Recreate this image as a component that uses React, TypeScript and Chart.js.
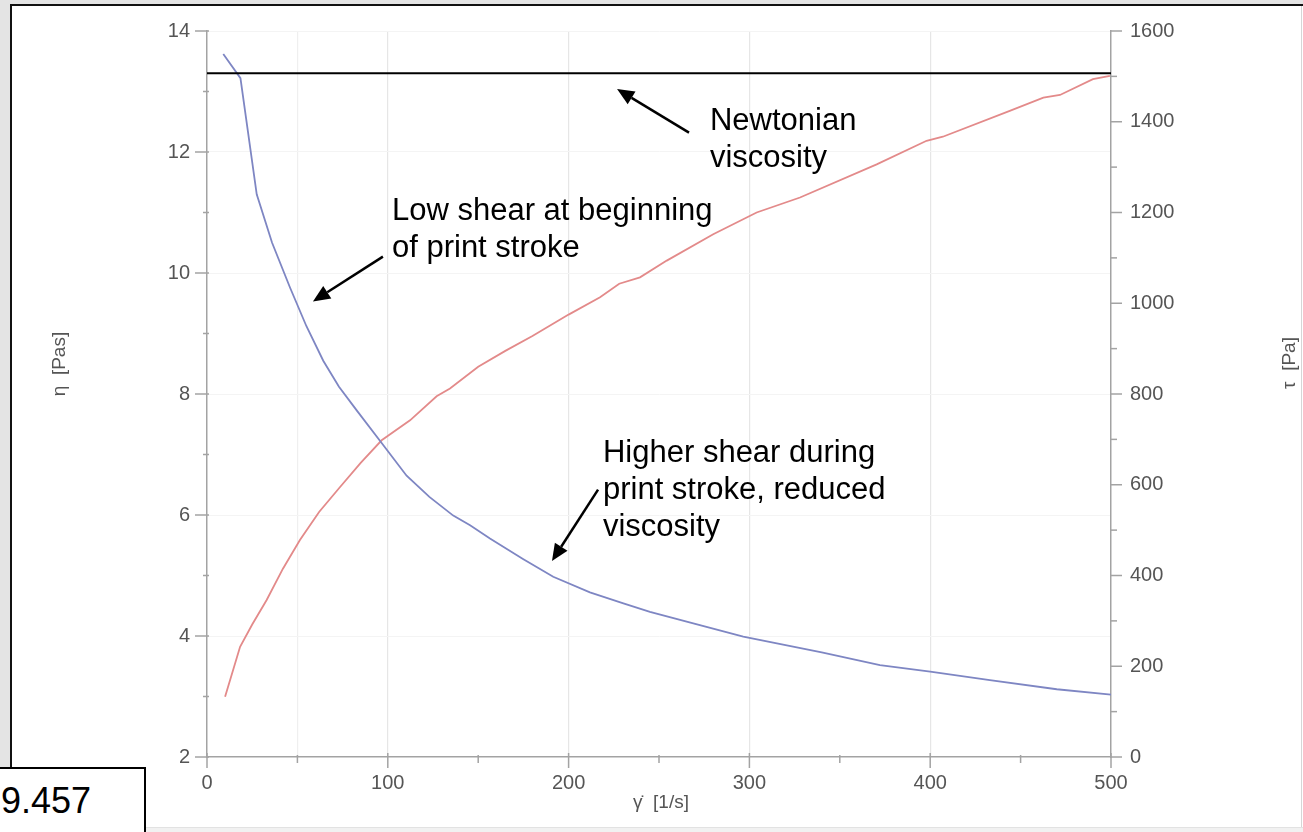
import React, { useEffect, useRef } from 'react';
import { Chart, registerables } from 'chart.js';

Chart.register(...registerables);

// ---------- data ----------
const shearEta = [9, 18.5, 27.5, 36, 45.9, 55, 64.3, 73, 82.8, 96.6, 110.4, 123, 136.2, 145.5, 156.5, 175, 191.5, 211.8, 230.3, 245, 270, 296.6, 340, 372.2, 400, 433, 470, 500];
const etaValues = [13.62, 13.22, 11.3, 10.5, 9.76, 9.12, 8.55, 8.12, 7.73, 7.19, 6.65, 6.3, 5.99, 5.83, 5.61, 5.27, 4.98, 4.72, 4.54, 4.4, 4.2, 3.99, 3.73, 3.52, 3.41, 3.27, 3.12, 3.03];

const shearTau = [10, 18.3, 25, 33, 42, 51.4, 62, 73.6, 85, 96.6, 112.3, 127, 134.4, 150, 165, 180, 200, 217.4, 228, 239.5, 254.3, 280, 304, 328, 370.4, 398, 407, 444, 462.6, 471.8, 490, 499.4];
const tauValues = [133, 243, 292, 346, 415, 478, 540, 595, 648, 698, 742, 795, 812, 860, 895, 928, 975, 1013, 1043, 1057, 1094, 1152, 1200, 1233, 1306, 1358, 1367, 1424, 1453, 1459, 1494, 1501];

const newtonianShear = [0, 500];
const newtonianEta = [13.3, 13.3];

const xMajorTicks = [0, 100, 200, 300, 400, 500];
const etaMajorTicks = [2, 4, 6, 8, 10, 12, 14];
const tauMajorTicks = [0, 200, 400, 600, 800, 1000, 1200, 1400, 1600];

const xTitle = 'γ̇  [1/s]';
const etaTitle = 'η  [Pas]';
const tauTitle = 'τ  [Pa]';

// annotations (data coordinates on shear / eta axes)
const annotationLines = [
  ['Newtonian', 'viscosity'],
  ['Low shear at beginning', 'of print stroke'],
  ['Higher shear during', 'print stroke, reduced', 'viscosity'],
];
const annotationShear = [278.2, 102.3, 219];
const annotationEta = [12.37, 10.88, 6.87];
const arrowTailShear = [266.6, 97.3, 216.3];
const arrowTailEta = [12.32, 10.27, 6.42];
const arrowHeadShear = [226.8, 58.6, 190.8];
const arrowHeadEta = [13.04, 9.53, 5.24];

const FONT = '"Liberation Sans", Arial, Helvetica, sans-serif';
const TICK_COLOR = '#555555';
const AXIS_COLOR = '#a3a3a3';

const decorPlugin = {
  id: 'decor',
  afterDraw(chart: any) {
    const { ctx, chartArea, scales } = chart;
    const xs = scales.x, ys = scales.y, y2 = scales.y2;
    ctx.save();
    ctx.strokeStyle = AXIS_COLOR;
    ctx.lineWidth = 1.5;
    // tick marks
    xs.ticks.forEach((t: any) => {
      const px = xs.getPixelForValue(t.value);
      const major = xMajorTicks.includes(t.value);
      ctx.beginPath();
      ctx.moveTo(px, chartArea.bottom - (major ? 4 : 2));
      ctx.lineTo(px, chartArea.bottom + (major ? 11 : 6));
      ctx.stroke();
    });
    ys.ticks.forEach((t: any) => {
      const py = ys.getPixelForValue(t.value);
      const major = etaMajorTicks.includes(t.value);
      ctx.beginPath();
      ctx.moveTo(chartArea.left - (major ? 12 : 4), py);
      ctx.lineTo(chartArea.left + 2, py);
      ctx.stroke();
    });
    y2.ticks.forEach((t: any) => {
      const py = y2.getPixelForValue(t.value);
      const major = tauMajorTicks.includes(t.value);
      ctx.beginPath();
      ctx.moveTo(chartArea.right - 1, py);
      ctx.lineTo(chartArea.right + (major ? 11 : 6), py);
      ctx.stroke();
    });
    // axis titles
    ctx.fillStyle = TICK_COLOR;
    ctx.font = `19px ${FONT}`;
    ctx.textAlign = 'center';
    ctx.textBaseline = 'middle';
    ctx.fillText(xTitle, (chartArea.left + chartArea.right) / 2 + 2, chartArea.bottom + 46);
    ctx.save();
    ctx.translate(chartArea.left - 147, chartArea.top + 333);
    ctx.rotate(-Math.PI / 2);
    ctx.fillText(etaTitle, 0, 0);
    ctx.restore();
    ctx.save();
    ctx.translate(chartArea.right + 179, chartArea.top + 332);
    ctx.rotate(-Math.PI / 2);
    ctx.fillText(tauTitle, 0, 0);
    ctx.restore();

    // annotations
    ctx.fillStyle = '#000';
    ctx.strokeStyle = '#000';
    ctx.textAlign = 'left';
    ctx.textBaseline = 'alphabetic';
    ctx.font = `31px ${FONT}`;
    annotationLines.forEach((lines, i) => {
      const ax = xs.getPixelForValue(annotationShear[i]);
      const ay = ys.getPixelForValue(annotationEta[i]);
      lines.forEach((ln, j) => ctx.fillText(ln, ax, ay + j * 37));
      const tx = xs.getPixelForValue(arrowTailShear[i]);
      const ty = ys.getPixelForValue(arrowTailEta[i]);
      const hx = xs.getPixelForValue(arrowHeadShear[i]);
      const hy = ys.getPixelForValue(arrowHeadEta[i]);
      const ang = Math.atan2(hy - ty, hx - tx);
      const L = 17, W = 7.5;
      const bx = hx - L * Math.cos(ang), by = hy - L * Math.sin(ang);
      ctx.lineWidth = 2.5;
      ctx.beginPath();
      ctx.moveTo(tx, ty);
      ctx.lineTo(bx, by);
      ctx.stroke();
      ctx.beginPath();
      ctx.moveTo(hx, hy);
      ctx.lineTo(bx + W * Math.sin(ang), by - W * Math.cos(ang));
      ctx.lineTo(bx - W * Math.sin(ang), by + W * Math.cos(ang));
      ctx.closePath();
      ctx.fill();
    });
    ctx.restore();
  },
};

export default function App() {
  const ref = useRef<HTMLCanvasElement | null>(null);
  useEffect(() => {
    if (!ref.current) return;
    const tickFont = { family: FONT, size: 20 };
    const chart = new Chart(ref.current, {
      type: 'line',
      data: {
        datasets: [
          {
            label: 'Newtonian viscosity',
            data: newtonianShear.map((x, i) => ({ x, y: newtonianEta[i] })),
            yAxisID: 'y',
            borderColor: '#000000',
            borderWidth: 2,
            pointRadius: 0,
          },
          {
            label: 'η',
            data: shearEta.map((x, i) => ({ x, y: etaValues[i] })),
            yAxisID: 'y',
            borderColor: '#7e86c3',
            borderWidth: 1.8,
            pointRadius: 0,
            tension: 0,
          },
          {
            label: 'τ',
            data: shearTau.map((x, i) => ({ x, y: tauValues[i] })),
            yAxisID: 'y2',
            borderColor: '#e38a8a',
            borderWidth: 1.8,
            pointRadius: 0,
            tension: 0,
          },
        ],
      },
      options: {
        responsive: false,
        animation: false,
        devicePixelRatio: 1,
        layout: { padding: { top: 30, left: 0, right: 0, bottom: 0 } },
        plugins: { legend: { display: false }, tooltip: { enabled: false } },
        scales: {
          x: {
            type: 'linear',
            min: 0,
            max: 500,
            afterFit: (s: any) => { s.height = 75; },
            ticks: {
              stepSize: 50,
              autoSkip: false,
              maxRotation: 0,
              padding: 14,
              color: TICK_COLOR,
              font: tickFont,
              callback: (v: any) => (xMajorTicks.includes(v) ? String(v) : ''),
            },
            grid: {
              drawTicks: false,
              lineWidth: 1.2,
              color: (c: any) => {
                const v = c.tick ? c.tick.value : -1;
                if (v === 0 || v === 500) return 'rgba(0,0,0,0)';
                if (xMajorTicks.includes(v)) return '#e6e6e6';
                if (v === 50) return '#efefef';
                return 'rgba(0,0,0,0)';
              },
            },
            border: { color: AXIS_COLOR, width: 1.5 },
          },
          y: {
            position: 'left',
            min: 2,
            max: 14,
            afterFit: (s: any) => { s.width = 207; },
            ticks: {
              stepSize: 1,
              autoSkip: false,
              padding: 17,
              color: TICK_COLOR,
              font: tickFont,
              callback: (v: any) => (etaMajorTicks.includes(v) ? String(v) : ''),
            },
            grid: {
              drawTicks: false,
              color: (c: any) => {
                const v = c.tick ? c.tick.value : -1;
                if (v === 2) return 'rgba(0,0,0,0)';
                return etaMajorTicks.includes(v) ? '#f4f4f4' : 'rgba(0,0,0,0)';
              },
            },
            border: { color: AXIS_COLOR, width: 1.5 },
          },
          y2: {
            position: 'right',
            min: 0,
            max: 1600,
            afterFit: (s: any) => { s.width = 192; },
            ticks: {
              stepSize: 100,
              autoSkip: false,
              padding: 19,
              color: TICK_COLOR,
              font: tickFont,
              callback: (v: any) => (tauMajorTicks.includes(v) ? String(v) : ''),
            },
            grid: { display: false, drawTicks: false },
            border: { color: AXIS_COLOR, width: 1.5 },
          },
        },
      },
      plugins: [decorPlugin],
    } as any);
    return () => chart.destroy();
  }, []);

  return (
    <div style={{ position: 'fixed', left: 0, top: 0, width: 1303, height: 832, background: '#ffffff', overflow: 'hidden' }}>
      {/* frame */}
      <div style={{ position: 'absolute', left: 0, top: 0, width: 1303, height: 4, background: '#e4e4e4' }} />
      <div style={{ position: 'absolute', left: 0, top: 0, width: 10, height: 767, background: '#e4e4e4' }} />
      <div style={{ position: 'absolute', left: 10, top: 4, width: 1293, height: 2, background: '#111' }} />
      <div style={{ position: 'absolute', left: 10, top: 4, width: 2, height: 763, background: '#111' }} />
      <div style={{ position: 'absolute', left: 1301, top: 6, width: 1, height: 821, background: '#d6d6d6' }} />
      <div style={{ position: 'absolute', left: 146, top: 827, width: 1157, height: 5, background: '#f1f1f1', borderTop: '1px solid #e2e2e2' }} />
      <canvas ref={ref} width={1303} height={832} style={{ position: 'absolute', left: 0, top: 0, width: 1303, height: 832 }} />
      <div style={{ position: 'absolute', left: 0, top: 767, width: 146, height: 65, boxSizing: 'border-box', background: '#fff', borderTop: '2px solid #000', borderRight: '2px solid #000' }}>
        <span style={{ position: 'absolute', left: 1, top: 11, fontFamily: FONT, fontSize: 36, lineHeight: 'normal', color: '#000', whiteSpace: 'nowrap' }}>9.457</span>
      </div>
    </div>
  );
}
